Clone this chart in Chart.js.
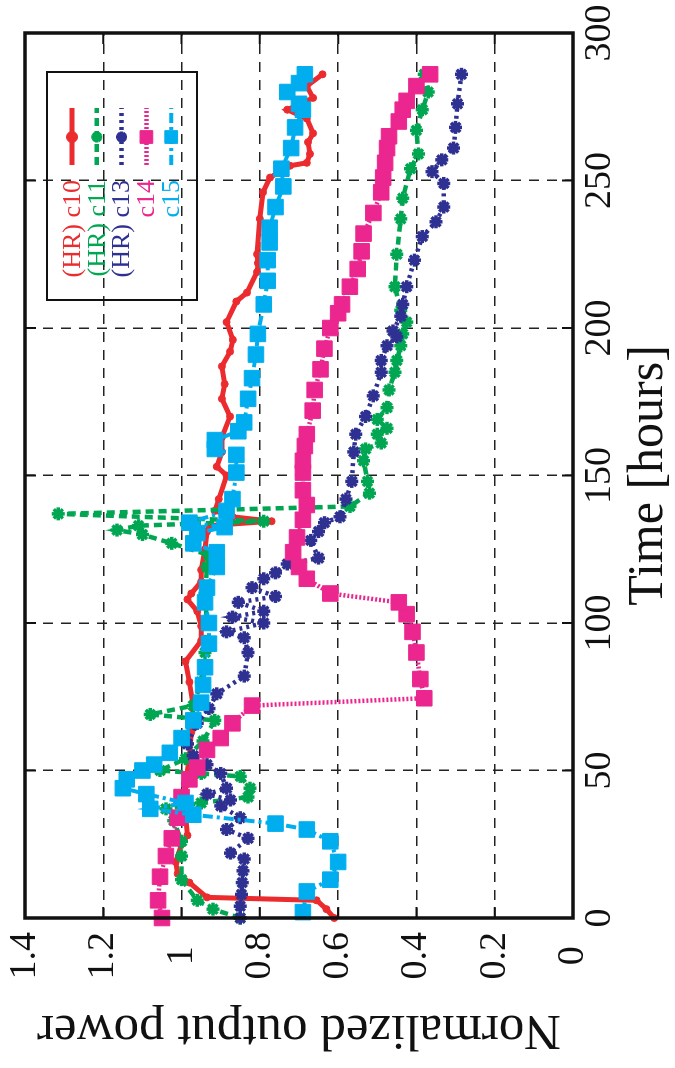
<!DOCTYPE html>
<html>
<head>
<meta charset="utf-8">
<script src="https://cdn.jsdelivr.net/npm/chart.js@4.4.1/dist/chart.umd.min.js"></script>
<style>
  html, body { margin: 0; padding: 0; background: #fff; overflow: hidden; }
  #wrap { position: relative; width: 675px; height: 1068px; }
  /* the figure is printed turned a quarter turn, so the canvas is drawn upright and rotated */
  #chart { position: absolute; left: 0; top: 0; transform-origin: 0 0; transform: translateY(1068px) rotate(-90deg); }
</style>
</head>
<body>
<div id="wrap"><canvas id="chart" width="1068" height="675"></canvas></div>
<script>
// ticks
const timeTicks = [0, 50, 100, 150, 200, 250, 300];
const powerTicks = [0, 0.2, 0.4, 0.6, 0.8, 1, 1.2, 1.4];
const powerLabels = ['0', '0.2', '0.4', '0.6', '0.8', '1', '1.2', '1.4'];

// (HR) c10
const c10Time = [0, 3, 6, 7, 12, 15, 19, 25, 28, 35, 45, 55, 63, 72, 80, 87, 94, 99, 104, 108, 110, 114, 118, 125, 131, 133, 134.5, 136, 138, 142, 150, 153, 158, 163, 170, 176, 181, 187, 192, 196, 202, 209, 212, 219, 222, 225, 237, 246, 251, 255, 256, 259, 263, 266, 271, 274, 278, 282, 286];
const c10Power = [0.61, 0.63, 0.655, 0.935, 0.98, 1.01, 1.015, 1.0, 0.985, 0.99, 0.99, 0.98, 0.975, 0.97, 0.98, 0.99, 0.95, 0.95, 0.96, 0.985, 0.975, 0.95, 0.95, 0.94, 0.935, 0.93, 0.77, 0.87, 0.915, 0.905, 0.885, 0.91, 0.897, 0.897, 0.876, 0.897, 0.89, 0.897, 0.876, 0.869, 0.885, 0.86, 0.833, 0.807, 0.805, 0.807, 0.80, 0.792, 0.774, 0.723, 0.68, 0.672, 0.677, 0.664, 0.68, 0.73, 0.664, 0.68, 0.64];

// (HR) c11
const c11Time = [0, 3, 6, 13, 21, 26, 33, 37, 39, 41, 44, 48, 49, 50, 54, 60, 67, 69, 72, 80, 90, 100, 110, 119, 123, 127, 130, 131.5, 133, 134.5, 137, 139.5, 144, 148, 155, 159, 161, 164, 166, 169, 173, 179, 185, 189, 194, 198, 202, 206, 214, 225, 237, 244, 254, 259, 267, 274, 280, 286];
const c11Power = [0.85, 0.92, 0.96, 1.0, 1.0, 1.0, 1.02, 1.04, 0.95, 0.83, 0.825, 0.85, 0.95, 1.055, 0.99, 0.945, 0.915, 1.08, 0.97, 0.95, 0.94, 0.935, 0.94, 0.935, 0.93, 1.025, 1.10, 1.165, 1.11, 0.79, 1.315, 0.57, 0.52, 0.525, 0.535, 0.53, 0.49, 0.50, 0.475, 0.50, 0.475, 0.47, 0.455, 0.45, 0.44, 0.435, 0.425, 0.44, 0.455, 0.45, 0.44, 0.435, 0.415, 0.395, 0.40, 0.385, 0.37, 0.38];

// (HR) c13
const c13Time = [0, 4, 8, 12, 16, 20, 22, 27, 30, 34, 38, 40, 42, 44, 49, 52, 55, 59, 66, 71, 76, 82, 90, 95, 97, 100, 102, 104, 107, 109, 112, 115, 117, 120, 122, 128, 131, 134, 136, 142, 148, 158, 164, 170, 177, 185, 189, 194, 197, 199, 204, 208, 214, 223, 231, 236, 241, 249, 253, 257, 261, 268, 276, 286];
const c13Power = [0.85, 0.85, 0.847, 0.845, 0.843, 0.84, 0.875, 0.83, 0.885, 0.85, 0.90, 0.875, 0.935, 0.885, 0.90, 0.935, 0.97, 0.985, 0.96, 0.93, 0.91, 0.84, 0.83, 0.84, 0.885, 0.79, 0.87, 0.79, 0.855, 0.76, 0.82, 0.79, 0.76, 0.73, 0.65, 0.67, 0.65, 0.635, 0.595, 0.58, 0.565, 0.56, 0.555, 0.53, 0.51, 0.49, 0.49, 0.475, 0.45, 0.46, 0.44, 0.435, 0.425, 0.405, 0.385, 0.35, 0.33, 0.33, 0.36, 0.335, 0.305, 0.30, 0.295, 0.285];

// c14
const c14Time = [0, 6, 14, 21, 27, 34, 41, 47, 51, 57, 61, 66, 72, 74.5, 81, 90, 97, 103, 107, 110, 115, 119, 124, 129, 135, 140, 145, 151, 155, 160, 164, 172, 179, 186, 193, 200, 205, 208, 214, 220, 226, 232, 239, 246, 251, 256, 261, 265, 270, 274, 277, 282, 286];
const c14Power = [1.05, 1.06, 1.055, 1.04, 1.025, 1.01, 1.0, 0.98, 0.96, 0.935, 0.90, 0.87, 0.82, 0.38, 0.39, 0.40, 0.41, 0.425, 0.445, 0.62, 0.68, 0.70, 0.715, 0.705, 0.69, 0.68, 0.69, 0.69, 0.69, 0.685, 0.68, 0.665, 0.66, 0.645, 0.635, 0.62, 0.60, 0.59, 0.57, 0.55, 0.54, 0.535, 0.51, 0.49, 0.485, 0.48, 0.475, 0.47, 0.445, 0.435, 0.425, 0.40, 0.365];

// c15
const c15Time = [2, 9, 13, 19, 26, 30, 32, 35, 37, 39, 42, 44, 47, 50, 52, 56, 61, 67, 73, 79, 85, 93, 100, 107, 112, 119, 124, 127, 130.5, 132.5, 134, 138, 142, 151, 157, 159, 162, 165, 168, 176, 183, 191, 198, 208, 216, 223, 229, 234, 241, 248, 254, 261, 268, 274, 276, 280, 283, 286];
const c15Power = [0.69, 0.68, 0.62, 0.60, 0.62, 0.68, 0.76, 0.97, 1.08, 0.99, 1.09, 1.15, 1.14, 1.10, 1.07, 1.03, 1.0, 0.97, 0.95, 0.945, 0.94, 0.93, 0.93, 0.94, 0.935, 0.91, 0.91, 0.97, 0.96, 0.89, 0.98, 0.885, 0.87, 0.86, 0.86, 0.915, 0.915, 0.855, 0.84, 0.83, 0.82, 0.81, 0.805, 0.79, 0.78, 0.78, 0.775, 0.775, 0.76, 0.74, 0.745, 0.72, 0.71, 0.69, 0.70, 0.73, 0.70, 0.685];

const serif = '"Liberation Serif", "DejaVu Serif", serif';
Chart.defaults.font.family = serif;
Chart.defaults.color = '#111';

function pts(t, p) {
    return t.map((x, i) => ({ x: x, y: p[i] }));
}

function line(label, t, p, color, dash, style, radius, width, order) {
    return {
        label: label,
        data: pts(t, p),
        borderColor: color,
        backgroundColor: color,
        borderWidth: width,
        borderDash: dash,
        pointStyle: style,
        pointRadius: radius,
        pointBorderWidth: style === 'star' ? 3.5 : 1,
        pointBorderColor: color,
        pointBackgroundColor: color,
        showLine: true,
        tension: 0,
        clip: false,
        order: order
    };
}

const datasets = [
    line('(HR) c10', c10Time, c10Power, '#ec2b2f', [], 'circle', 3.5, 5, 5),
    line('(HR) c11', c11Time, c11Power, '#00a651', [8, 5], 'star', 6.5, 4.5, 4),
    line('(HR) c13', c13Time, c13Power, '#2e3192', [3, 4], 'star', 6.5, 4.5, 3),
    line('c14', c14Time, c14Power, '#ec268f', [2, 2], 'rect', 11, 4.5, 2),
    line('c15', c15Time, c15Power, '#00aeef', [10, 4, 3, 4], 'rect', 11, 4, 1)
];

// gnuplot style border with inner tick marks
const frame = {
    id: 'frame',
    afterDatasetsDraw(chart) {
        const c = chart.ctx;
        const a = chart.chartArea;
        const xs = chart.scales.x, ys = chart.scales.y;
        c.save();
        c.strokeStyle = '#111';
        c.lineWidth = 2;
        c.beginPath();
        timeTicks.forEach(v => {
            const px = xs.getPixelForValue(v);
            c.moveTo(px, a.top); c.lineTo(px, a.top + 11);
            c.moveTo(px, a.bottom); c.lineTo(px, a.bottom - 11);
        });
        powerTicks.forEach(v => {
            const py = ys.getPixelForValue(v);
            c.moveTo(a.left, py); c.lineTo(a.left + 11, py);
            c.moveTo(a.right, py); c.lineTo(a.right - 11, py);
        });
        c.stroke();
        c.lineWidth = 3.5;
        c.strokeRect(a.left, a.top, a.right - a.left, a.bottom - a.top);
        c.restore();
    }
};

// key in the upper right corner, text right aligned with the sample after it
const keyBox = {
    id: 'keyBox',
    afterDraw(chart) {
        const c = chart.ctx;
        c.save();
        c.strokeStyle = '#111';
        c.lineWidth = 2;
        c.strokeRect(768, 47, 228, 150);
        chart.data.datasets.forEach((ds, i) => {
            const y = 72 + i * 24.8;
            c.font = '26px ' + serif;
            c.fillStyle = ds.borderColor;
            c.textAlign = 'right';
            c.textBaseline = 'middle';
            c.fillText(ds.label, 888, y + 1);
            c.strokeStyle = ds.borderColor;
            c.lineWidth = ds.borderWidth;
            c.setLineDash(ds.borderDash);
            c.beginPath();
            c.moveTo(903, y);
            c.lineTo(960, y);
            c.stroke();
            c.setLineDash([]);
            c.lineWidth = ds.pointBorderWidth;
            if (Chart.helpers && Chart.helpers.drawPoint) {
                Chart.helpers.drawPoint(c, { pointStyle: ds.pointStyle, radius: ds.pointStyle === 'rect' ? 9 : 5.5, rotation: 0, borderWidth: ds.pointBorderWidth }, 931, y);
            } else {
                c.fillRect(925, y - 6, 12, 12);
            }
        });
        c.restore();
    }
};

new Chart(document.getElementById('chart'), {
    type: 'scatter',
    data: { datasets: datasets },
    options: {
        responsive: false,
        animation: false,
        devicePixelRatio: 1,
        layout: { padding: { left: 0, right: 33, top: 25, bottom: 0 } },
        plugins: {
            legend: { display: false },
            tooltip: { enabled: false }
        },
        scales: {
            x: {
                type: 'linear',
                position: 'bottom',
                min: 0,
                max: 300,
                afterBuildTicks: s => { s.ticks = timeTicks.map(v => ({ value: v })); },
                afterFit: s => { s.height = 102; s.paddingLeft = 0; s.paddingRight = 0; },
                grid: { color: '#222', lineWidth: 1.5, drawTicks: false },
                border: { display: false, dash: [10, 8] },
                ticks: { font: { family: serif, size: 38 }, padding: 4, maxRotation: 0, color: '#111' },
                title: { display: true, text: 'Time [hours]', font: { family: serif, size: 50, lineHeight: 1 }, padding: { top: 0, bottom: 1 }, color: '#111' }
            },
            y: {
                type: 'linear',
                position: 'left',
                min: 0,
                max: 1.4,
                afterBuildTicks: s => { s.ticks = powerTicks.map(v => ({ value: v })); },
                afterFit: s => { s.width = 150; s.paddingTop = 0; s.paddingBottom = 0; },
                grid: { color: '#222', lineWidth: 1.5, drawTicks: false },
                border: { display: false, dash: [10, 8] },
                ticks: {
                    font: { family: serif, size: 38 },
                    padding: 14,
                    crossAlign: 'center',
                    color: '#111',
                    callback: (v, i) => powerLabels[i]
                },
                title: { display: true, text: 'Normalized output power', font: { family: serif, size: 51, lineHeight: 1 }, padding: { top: 13, bottom: 0 }, color: '#111' }
            }
        }
    },
    plugins: [frame, keyBox]
});
</script>
</body>
</html>
